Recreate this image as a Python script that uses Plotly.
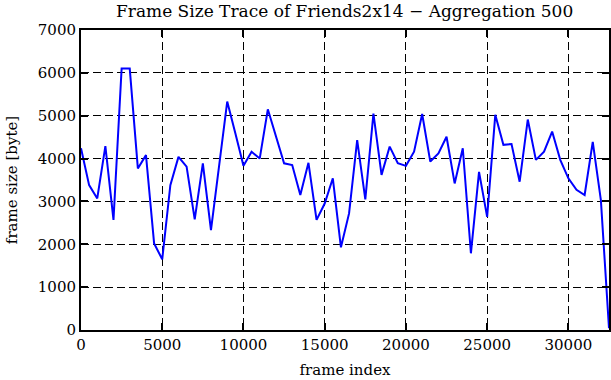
import plotly.graph_objects as go

frame_index = [i * 500 for i in range(66)]
frame_size = [
    4240, 3380, 3070, 4290, 2570, 6100, 6100, 3770, 4080, 2020,
    1650, 3380, 4040, 3810, 2580, 3890, 2330, 3850, 5330, 4590,
    3830, 4160, 4000, 5150, 4510, 3890, 3850, 3150, 3900, 2570,
    2950, 3540, 1930, 2720, 4430, 3050, 5050, 3620, 4280, 3890,
    3830, 4160, 5040, 3930, 4120, 4510, 3420, 4240, 1790, 3690,
    2640, 5020, 4320, 4340, 3460, 4910, 3970, 4160, 4630, 3970,
    3540, 3270, 3150, 4390, 3030, 40,
]
x_ticks = [0, 5000, 10000, 15000, 20000, 25000, 30000]
y_ticks = [0, 1000, 2000, 3000, 4000, 5000, 6000, 7000]

FONT = "DejaVu Serif, Liberation Serif, serif"
FS = 15

fig = go.Figure(
    go.Scatter(
        x=frame_index,
        y=frame_size,
        mode="lines",
        line=dict(color="#0000ff", width=2),
        showlegend=False,
    )
)

axis_common = dict(
    automargin=False,
    showline=True,
    linecolor="black",
    linewidth=2,
    mirror="allticks",
    ticks="inside",
    ticklen=7,
    tickwidth=1.5,
    tickcolor="black",
    showgrid=True,
    gridcolor="black",
    gridwidth=1,
    griddash="8px,4px",
    zeroline=False,
    tickfont=dict(family=FONT, size=FS, color="black"),
)

fig.update_layout(
    width=611,
    height=380,
    margin=dict(l=81, r=2, t=30, b=50),
    paper_bgcolor="white",
    plot_bgcolor="white",
    title=dict(
        text="Frame Size Trace of Friends2x14 \u2212 Aggregation 500",
        x=0.564,
        xanchor="center",
        y=0.972,
        yanchor="middle",
        font=dict(family=FONT, size=17, color="black"),
    ),
    xaxis=dict(
        range=[0, 32500],
        tickvals=x_ticks,
        ticktext=[str(v) for v in x_ticks],
        title=dict(text="frame index", font=dict(family=FONT, size=FS, color="black"), standoff=11),
        **axis_common,
    ),
    yaxis=dict(
        range=[0, 7000],
        tickvals=y_ticks,
        ticktext=[str(v) for v in y_ticks],
        title=dict(text="frame size [byte]", font=dict(family=FONT, size=FS, color="black"), standoff=17),
        **axis_common,
    ),
)

fig.write_html(
    "out.html",
    config={"displayModeBar": False},
    post_script="document.body.style.margin='0';document.body.style.overflow='hidden';",
)
